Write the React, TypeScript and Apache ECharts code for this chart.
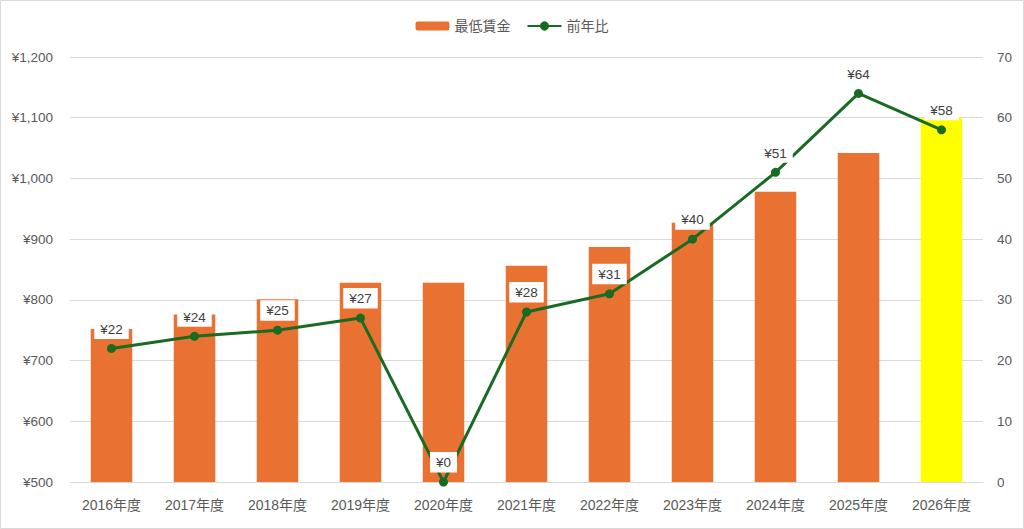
import React, { useEffect, useRef } from "react";
import * as echarts from "echarts";

const categories = ["2016年度", "2017年度", "2018年度", "2019年度", "2020年度", "2021年度", "2022年度", "2023年度", "2024年度", "2025年度", "2026年度"];
const wageValues = [752, 776, 801, 828, 828, 856, 887, 927, 978, 1042, 1100];
const yoyValues = [22, 24, 25, 27, 0, 28, 31, 40, 51, 64, 58];
const highlightIndex = 10;

const FONT = '"Liberation Sans", "Noto Sans CJK JP", sans-serif';
const TEXT = "#595959";

export default function App() {
  const ref = useRef<HTMLDivElement>(null);
  useEffect(() => {
    document.body.style.margin = "0";
    const chart = echarts.init(ref.current!, undefined, { renderer: "svg" });
    chart.setOption({
      animation: false,
      textStyle: { fontFamily: FONT },
      graphic: [
        {
          type: "rect",
          shape: { x: 0.5, y: 0.5, width: 1023, height: 528 },
          style: { fill: "none", stroke: "#d9d9d9", lineWidth: 1 },
          silent: true,
        },
      ],
      legend: {
        top: 14,
        left: "center",
        itemWidth: 34,
        itemHeight: 9,
        itemGap: 16,
        textStyle: { color: TEXT, fontSize: 14, fontFamily: FONT },
        data: ["最低賃金", { name: "前年比", itemStyle: { borderWidth: 2, borderColor: "#196B24" } }],
      },
      grid: { left: 70, right: 41, top: 57, bottom: 47 },
      xAxis: {
        type: "category",
        data: categories,
        axisTick: { show: false },
        axisLine: { lineStyle: { color: "#d9d9d9" } },
        axisLabel: { color: TEXT, fontSize: 14, margin: 16, fontFamily: FONT },
      },
      yAxis: [
        {
          type: "value",
          min: 500,
          max: 1200,
          interval: 100,
          axisLabel: {
            color: TEXT,
            fontSize: 13.5,
            margin: 17,
            fontFamily: FONT,
            formatter: (v: number) => "¥" + v.toLocaleString("en-US"),
          },
          splitLine: { lineStyle: { color: "#d9d9d9" } },
          axisLine: { show: false },
          axisTick: { show: false },
        },
        {
          type: "value",
          min: 0,
          max: 70,
          interval: 10,
          position: "right",
          axisLabel: { color: TEXT, fontSize: 13.5, margin: 14, fontFamily: FONT },
          splitLine: { show: false },
          axisLine: { show: false },
          axisTick: { show: false },
        },
      ],
      series: [
        {
          name: "最低賃金",
          type: "bar",
          yAxisIndex: 0,
          barWidth: "50%",
          itemStyle: { color: "#E97132" },
          data: wageValues.map((v, i) =>
            i === highlightIndex ? { value: v, itemStyle: { color: "#FFFF00" } } : v
          ),
        },
        {
          name: "前年比",
          type: "line",
          yAxisIndex: 1,
          symbol: "circle",
          symbolSize: 9,
          lineStyle: { color: "#196B24", width: 3 },
          itemStyle: { color: "#196B24" },
          label: {
            show: true,
            position: "top",
            distance: 5,
            formatter: (p: any) => "¥" + p.value,
            backgroundColor: "#ffffff",
            padding: [4, 6, 3, 6],
            color: "#404040",
            fontSize: 13.5,
            fontFamily: FONT,
          },
          data: yoyValues,
          z: 5,
        },
      ],
    });
    return () => chart.dispose();
  }, []);
  return <div ref={ref} style={{ position: "absolute", left: 0, top: 0, width: 1024, height: 529 }} />;
}
